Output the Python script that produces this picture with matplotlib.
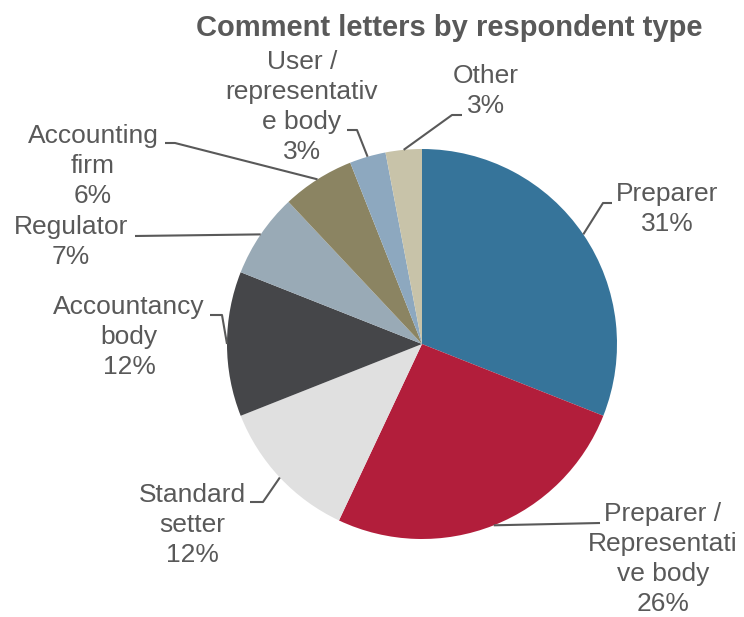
import numpy as np
import matplotlib
matplotlib.use("Agg")
import matplotlib.pyplot as plt

plt.rcParams['font.family'] = ['Liberation Sans', 'DejaVu Sans']

# Data
names = ["Preparer", "Preparer /\nRepresentati\nve body", "Standard\nsetter",
         "Accountancy\nbody", "Regulator", "Accounting\nfirm",
         "User /\nrepresentativ\ne body", "Other"]
shares = [31, 26, 12, 12, 7, 6, 3, 3]
colors = ["#36749A", "#B21E3B", "#E0E0E0", "#454649",
          "#99AAB6", "#8B8462", "#8DA8BF", "#C8C3A9"]

W, H = 744, 617
TXT = "#595959"

fig = plt.figure(figsize=(W / 100, H / 100), dpi=100)
ax = fig.add_axes([0, 0, 1, 1])

cx, cy, r = 422, H - 344, 195
wedges, _ = ax.pie(shares, colors=colors, startangle=90, counterclock=False,
                   center=(cx, cy), radius=r,
                   wedgeprops=dict(linewidth=0))
ax.set_xlim(0, W)
ax.set_ylim(0, H)
ax.set_aspect("equal")
ax.axis("off")

# label centre and leader elbow points (pixel coords, y from top)
label_pos = [(667, 209), (663, 559), (192, 525), (129, 337),
             (71, 242), (93, 166), (302, 107), (486, 91)]
elbows = [[(612, 203), (603, 203)],
          [(600, 523)],
          [(250, 502), (263, 502)],
          [(210, 315), (222, 315)],
          [(135, 236)],
          [(165, 143), (175, 143)],
          [(347, 130), (357, 130)],
          [(462, 115), (452, 115)]]

for w, name, pct, (lx, ly), pts in zip(wedges, names, shares, label_pos, elbows):
    ang = np.deg2rad((w.theta1 + w.theta2) / 2)
    axp = cx + r * np.cos(ang)
    ayp = cy + r * np.sin(ang)
    xs = [p[0] for p in pts] + [axp]
    ys = [H - p[1] for p in pts] + [ayp]
    ax.plot(xs, ys, color=TXT, lw=1.5, solid_capstyle="butt")
    ax.text(lx, H - ly, f"{name}\n{pct}%", ha="center", va="center",
            fontsize=19, color=TXT, linespacing=1.32, multialignment="center")

ax.text(449, H - 28, "Comment letters by respondent type", ha="center",
        va="center", fontsize=21, fontweight="bold", color=TXT)

fig.savefig("out.png", dpi=100)
